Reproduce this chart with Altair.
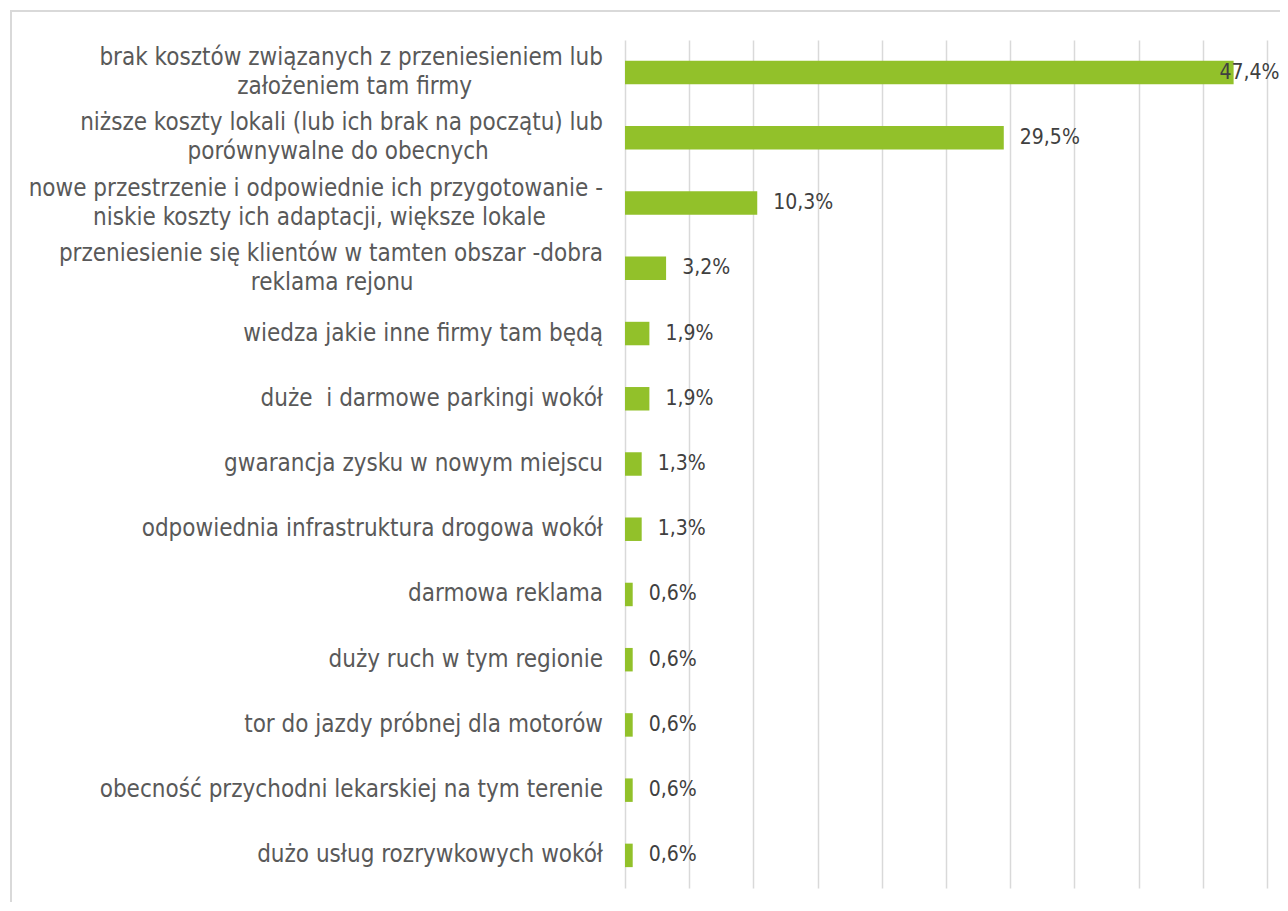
import altair as alt
import pandas as pd

categories = [
    "brak kosztów związanych z przeniesieniem lub\nzałożeniem tam firmy",
    "niższe koszty lokali (lub ich brak na początu) lub\nporównywalne do obecnych",
    "nowe przestrzenie i odpowiednie ich przygotowanie -\nniskie koszty ich adaptacji, większe lokale",
    "przeniesienie się klientów w tamten obszar -dobra\nreklama rejonu",
    "wiedza jakie inne firmy tam będą",
    "duże  i darmowe parkingi wokół",
    "gwarancja zysku w nowym miejscu",
    "odpowiednia infrastruktura drogowa wokół",
    "darmowa reklama",
    "duży ruch w tym regionie",
    "tor do jazdy próbnej dla motorów",
    "obecność przychodni lekarskiej na tym terenie",
    "dużo usług rozrywkowych wokół",
]
values = [47.4, 29.5, 10.3, 3.2, 1.9, 1.9, 1.3, 1.3, 0.6, 0.6, 0.6, 0.6, 0.6]
grid_values = [0, 5, 10, 15, 20, 25, 30, 35, 40, 45, 50]

df = pd.DataFrame({"cat": categories, "value": values})

FONT = "DejaVu Sans Condensed"
W, H = 642, 848
LABEL_X = -22

x_scale = alt.Scale(domain=[0, 50], nice=False)
y_enc = alt.Y("cat:N", sort=categories, axis=None,
              scale=alt.Scale(paddingInner=0.64, paddingOuter=0.32))

base = alt.Chart(df)

frame = alt.Chart(pd.DataFrame({"a": [0]})).mark_rect(
    fill=None, stroke="#D9D9D9", strokeWidth=2
).encode(
    x=alt.value(-614), x2=alt.value(W + 100),
    y=alt.value(-29), y2=alt.value(H + 100),
)

bars = base.mark_bar(color="#92C12A").encode(
    x=alt.X("value:Q", scale=x_scale,
            axis=alt.Axis(values=grid_values, labels=False, ticks=False,
                          domain=False, title=None, grid=True,
                          gridColor="#D9D9D9", gridWidth=1.5)),
    y=y_enc,
)

vals = base.transform_calculate(
    lbl="replace(format(datum.value, '.1f'), '.', ',') + '%'",
    pos="min(datum.value + 1.25, 46.3)",
).mark_text(align="left", baseline="middle", font=FONT, fontSize=21,
            color="#404040").encode(
    x=alt.X("pos:Q", scale=x_scale),
    y=y_enc,
    text="lbl:N",
)

cat_style = dict(baseline="middle", font=FONT, fontSize=24, color="#595959")

cats_single = base.transform_filter(
    "indexof(datum.cat, '\\n') < 0"
).transform_calculate(
    shown="replace(datum.cat, '  ', ' \u00a0')",
).mark_text(align="right", **cat_style).encode(
    x=alt.value(LABEL_X),
    y=y_enc,
    text="shown:N",
)

wrapped = base.transform_filter(
    "indexof(datum.cat, '\\n') >= 0"
).transform_calculate(
    line1="split(datum.cat, '\\n')[0]",
    line2="split(datum.cat, '\\n')[1]",
).transform_calculate(
    narrow=("(length(split(datum.line1, ' ')) - 1)"
            " + (length(split(datum.line1, 'i')) - 1)"
            " + (length(split(datum.line1, 'l')) - 1)"
            " + (length(split(datum.line1, '(')) - 1)"
            " + (length(split(datum.line1, ')')) - 1)"
            " + (length(split(datum.line1, '-')) - 1)"),
).transform_calculate(
    w1="12.7 * (length(datum.line1) - datum.narrow) + 6.5 * datum.narrow",
).transform_calculate(
    cx=f"{LABEL_X} - datum.w1 / 2",
)

cats_l1 = wrapped.mark_text(align="right", dy=-14.5, **cat_style).encode(
    x=alt.value(LABEL_X),
    y=y_enc,
    text="line1:N",
)

cats_l2 = wrapped.mark_text(align="center", dy=14.5, **cat_style).encode(
    x=alt.X("cx:Q", scale=None),
    y=y_enc,
    text="line2:N",
)

chart = alt.layer(frame, bars, vals, cats_single, cats_l1, cats_l2).properties(
    width=W, height=H,
    autosize=alt.AutoSizeParams(type="none"),
    padding={"left": 617, "top": 32, "right": 13, "bottom": 14},
).configure_view(stroke=None)

chart.save("out.html", embed_options={"renderer": "svg", "actions": False})
